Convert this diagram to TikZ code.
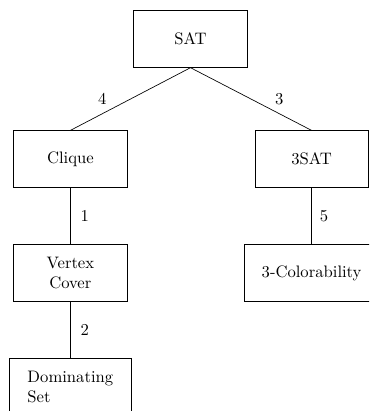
\documentclass[tikz,border=0pt]{standalone}
\begin{document}
\begin{tikzpicture}[
    problema/.style={draw, minimum width=2.4cm, minimum height=1.2cm, inner xsep=10.7pt},
    peso/.style={midway}
  ]
  % Marco del dibujo
  \clip (-4.027,-7.864) rectangle (3.774,0.824);
  % Problemas
  \node[problema] (sat) at (0,0) {SAT};
  \node[problema] (clique) at (-2.54,-2.54) {Clique};
  \node[problema] (tressat) at (2.56,-2.54) {3SAT};
  \node[problema, align=center] (vc) at (-2.54,-4.95) {Vertex\\Cover};
  \node[problema] (col) at (2.56,-4.95) {3-Colorability};
  \node[problema, align=left, anchor=north] (ds) at (-2.54,-6.744) {Dominating\\Set};
  % Reducciones con sus pesos
  \draw (sat.south) -- (clique.north) node[peso, xshift=-17pt] {4};
  \draw (sat.south) -- (tressat.north) node[peso, xshift=17pt] {3};
  \draw (clique.south) -- (vc.north) node[peso, xshift=8.7pt] {1};
  \draw (vc.south) -- (ds.north) node[peso, xshift=8.7pt] {2};
  \draw (tressat.south) -- (col.north) node[peso, xshift=7.5pt] {5};
\end{tikzpicture}
\end{document}
